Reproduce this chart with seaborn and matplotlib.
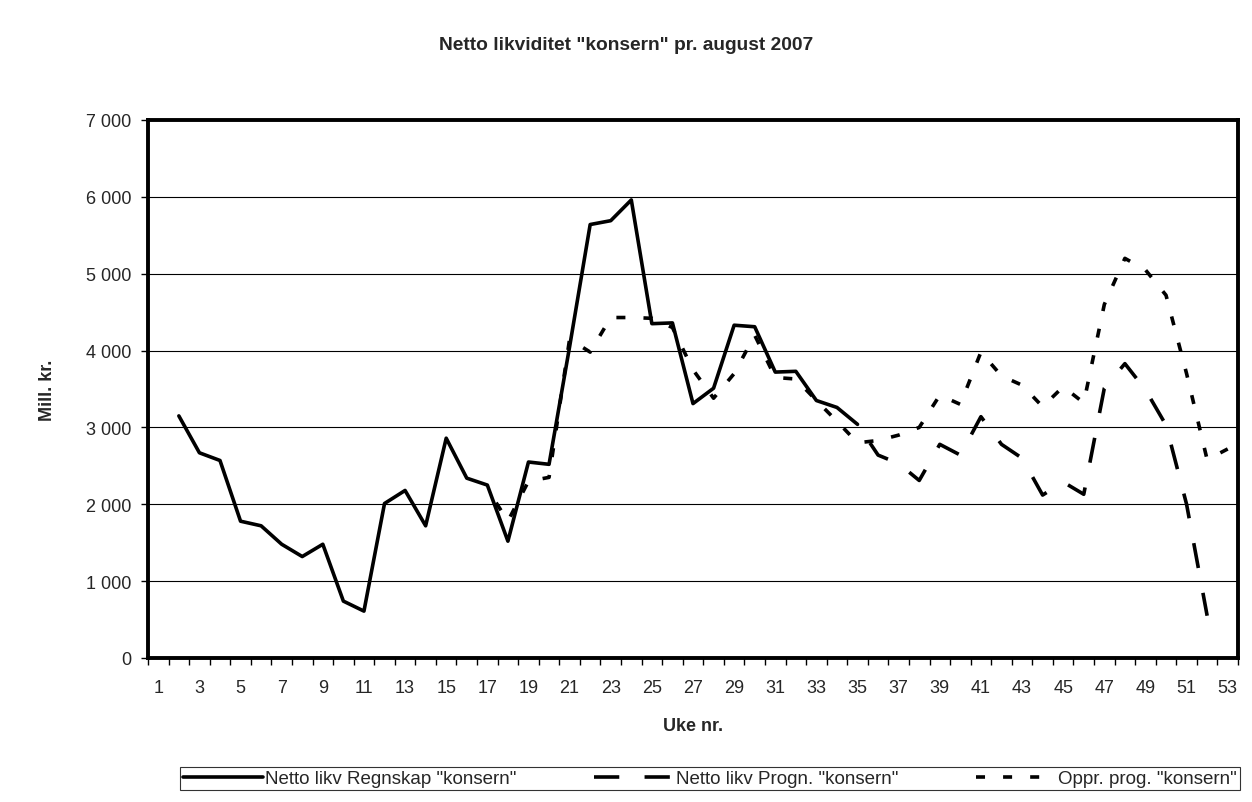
import numpy as np
import pandas as pd
import matplotlib
matplotlib.use("Agg")
import matplotlib.pyplot as plt
import seaborn as sns

sns.set_theme(style="white")
plt.rcParams['font.family'] = ['Liberation Sans', 'DejaVu Sans']

weeks = list(range(1, 54))

regnskap_weeks = list(range(2, 36))
regnskap = [3150, 2670, 2570, 1780, 1720, 1480, 1320, 1480, 740, 610,
            2010, 2180, 1720, 2860, 2340, 2250, 1520, 2550, 2520, 4050,
            5640, 5690, 5960, 4350, 4360, 3310, 3510, 4330, 4310, 3720,
            3730, 3350, 3260, 3040]

progn_weeks = list(range(35, 53))
progn = [3040, 2640, 2530, 2310, 2780, 2640, 3140, 2780, 2600, 2120,
         2290, 2130, 3510, 3830, 3490, 3030, 2000, 550]

oppr_weeks = list(range(17, 54))
oppr = [2200, 1780, 2300, 2350, 4150, 3980, 4430, 4430, 4420, 4300,
        3750, 3380, 3700, 4200, 3650, 3630, 3350, 3080, 2800, 2830,
        2900, 3000, 3420, 3300, 3980, 3670, 3550, 3270, 3530, 3320,
        4600, 5200, 5050, 4720, 3700, 2580, 2720]

series_names = ['Netto likv Regnskap "konsern"',
                'Netto likv Progn. "konsern"',
                'Oppr. prog. "konsern"']

yticks = [0, 1000, 2000, 3000, 4000, 5000, 6000, 7000]
ytick_labels = ["0", "1 000", "2 000", "3 000", "4 000", "5 000", "6 000", "7 000"]
xtick_labels = [str(w) for w in range(1, 54, 2)]

title = 'Netto likviditet "konsern" pr. august 2007'
xlabel = "Uke nr."
ylabel = "Mill. kr."

frames = [
    pd.DataFrame({"week": regnskap_weeks, "value": regnskap, "series": series_names[0]}),
    pd.DataFrame({"week": progn_weeks, "value": progn, "series": series_names[1]}),
    pd.DataFrame({"week": oppr_weeks, "value": oppr, "series": series_names[2]}),
]

DPI = 100
fig = plt.figure(figsize=(12.52, 8.03), dpi=DPI)
ax = fig.add_axes([148/1252, 1 - 659/803, (1238-148)/1252, (659-121)/803])
ax.set_xlim(0.5, 53.5)
ax.set_ylim(0, 7000)

LW = 2.6
patterns = [None, (7, 7), (2.5, 5)]
lines = []
for d, pat in zip(frames, patterns):
    sns.lineplot(data=d, x="week", y="value", color="black", linewidth=LW,
                 ax=ax, legend=False, estimator=None, sort=False)
    ln = ax.lines[-1]
    if pat is not None:
        # phase the dash pattern so the line ends inside a dash
        pts = ax.transData.transform(np.column_stack([d["week"], d["value"]]))
        L = np.sum(np.hypot(*np.diff(pts, axis=0).T))
        unit = LW * DPI / 72.0
        on_px, period = pat[0] * unit, (pat[0] + pat[1]) * unit
        off_px = (0.92 * on_px - L) % period
        ln.set_linestyle((off_px / unit, pat))
    lines.append(ln)

ax.set_xlim(0.5, 53.5)
ax.set_ylim(0, 7000)
ax.set_yticks(yticks)
ax.set_yticklabels(ytick_labels, fontsize=13)
ax.set_xticks(list(range(1, 54, 2)))
ax.set_xticklabels(xtick_labels, fontsize=13)
ax.set_xticks(np.arange(0.5, 54, 1), minor=True)
ax.tick_params(axis='x', which='major', length=0, pad=15)
ax.tick_params(axis='x', which='minor', length=5, width=1, direction='out', color='black', bottom=True)
ax.tick_params(axis='y', which='major', length=5, width=1, direction='out', color='black', left=True, pad=7)

ax.grid(axis='y', color='black', linewidth=0.8)
ax.grid(axis='x', visible=False)
ax.set_axisbelow(True)
for s in ax.spines.values():
    s.set_visible(True)
    s.set_color('black')
    s.set_linewidth(2.8)

ax.set_xlabel("")
ax.set_ylabel("")
fig.text(0.5, 1 - 45/803, title, ha='center', va='center', fontsize=13.8, fontweight='bold')
fig.text(693/1252, 1 - 727/803, xlabel, ha='center', va='center', fontsize=13, fontweight='bold')
fig.text(47/1252, 1 - 390/803, ylabel, ha='center', va='center', fontsize=13, fontweight='bold', rotation=90)

handles = [plt.Line2D([], [], color='black', linewidth=LW, linestyle='-'),
           plt.Line2D([], [], color='black', linewidth=LW, dashes=(7, 7)),
           plt.Line2D([], [], color='black', linewidth=LW, dashes=(2.5, 5))]
leg = fig.legend(handles, series_names, loc='lower left',
                 bbox_to_anchor=(180/1252, 1 - 791/803, (1240-180)/1252, 26/803),
                 mode='expand', borderaxespad=0,
                 ncol=3, fontsize=13.5, frameon=True, fancybox=False, handlelength=4.3,
                 handletextpad=0.1, columnspacing=1.0, borderpad=0.15)
leg.get_frame().set_edgecolor('black')
leg.get_frame().set_linewidth(0.8)

fig.savefig("out.png", dpi=DPI)
